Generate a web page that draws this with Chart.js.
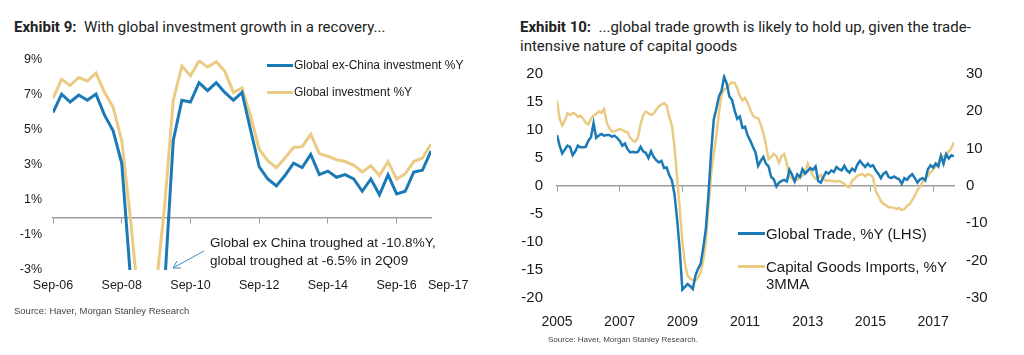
<!DOCTYPE html>
<html><head><meta charset="utf-8">
<script src="https://cdn.jsdelivr.net/npm/chart.js@4/dist/chart.umd.min.js"></script>
<style>
html,body{margin:0;padding:0;background:#fff;}
body{width:1024px;height:355px;position:relative;overflow:hidden;font-family:"Liberation Sans",Arial,sans-serif;color:#1a1a1a;}
.abs{position:absolute;white-space:nowrap;}
.title{font-family:Roboto,"Liberation Sans",sans-serif;font-size:15px;line-height:19px;color:#222;}
.title b{font-weight:700;}
.src{color:#444;}
.lg{font-size:12px;line-height:14px;}
.lgr{font-size:15px;line-height:17px;}
.sw{position:absolute;height:3px;}
canvas{position:absolute;}
</style>
</head><body>

<div class="abs title" style="left:14px;top:18px;"><b>Exhibit 9:</b>&nbsp; With global investment growth in a recovery...</div>
<div class="abs title" style="left:520px;top:18px;"><b>Exhibit 10:</b>&nbsp; ...global trade growth is likely to hold up, given the trade-<br>intensive nature of capital goods</div>

<canvas id="cL" width="512" height="280" style="left:0;top:40px;width:512px;height:280px;"></canvas>
<canvas id="cR" width="512" height="300" style="left:512px;top:50px;width:512px;height:300px;"></canvas>

<!-- left legend -->
<div class="sw" style="left:267px;top:64px;width:26px;background:#1b7ab5;"></div>
<div class="abs lg" style="left:294px;top:58px;">Global ex-China investment %Y</div>
<div class="sw" style="left:267px;top:91px;width:26px;background:#ebcb84;"></div>
<div class="abs lg" style="left:294px;top:85px;">Global investment %Y</div>

<!-- annotation -->
<div class="abs" style="left:210px;top:234px;font-size:13.5px;line-height:18px;">Global ex China troughed at -10.8%Y,<br>global troughed at -6.5% in 2Q09</div>
<svg class="abs" style="left:0;top:0;" width="512" height="355">
  <line x1="204" y1="251" x2="173" y2="268" stroke="#3d88c0" stroke-width="1"/>
  <polyline points="177,261 173,268 181,268" fill="none" stroke="#3d88c0" stroke-width="1"/>
</svg>

<!-- right legend -->
<div class="sw" style="left:738px;top:232px;width:27px;background:#1b7ab5;"></div>
<div class="abs lgr" style="left:766px;top:225px;">Global Trade, %Y (LHS)</div>
<div class="sw" style="left:738px;top:265px;width:27px;background:#ebcb84;"></div>
<div class="abs lgr" style="left:766px;top:258px;">Capital Goods Imports, %Y<br>3MMA</div>

<div class="abs src" style="left:14px;top:305px;font-size:9.5px;">Source: Haver, Morgan Stanley Research</div>
<div class="abs src" style="left:548px;top:335px;font-size:8px;">Source: Haver, Morgan Stanley Research.</div>

<script>
// ---------- Exhibit 9 data (quarterly, Sep-06 .. Sep-17) ----------
const quarters = ['Sep-06','Dec-06','Mar-07','Jun-07','Sep-07','Dec-07','Mar-08','Jun-08','Sep-08','Dec-08',
  'Mar-09','Jun-09','Sep-09','Dec-09','Mar-10','Jun-10','Sep-10','Dec-10','Mar-11','Jun-11',
  'Sep-11','Dec-11','Mar-12','Jun-12','Sep-12','Dec-12','Mar-13','Jun-13','Sep-13','Dec-13',
  'Mar-14','Jun-14','Sep-14','Dec-14','Mar-15','Jun-15','Sep-15','Dec-15','Mar-16','Jun-16',
  'Sep-16','Dec-16','Mar-17','Jun-17','Sep-17'];
const exChinaInvestment = [6.0,7.05,6.6,7.0,6.7,7.05,5.85,4.95,3.1,-3.3,
  -9.5,-10.8,-8.5,-3.8,4.4,6.7,6.6,7.7,7.25,7.7,
  7.15,6.7,7.15,5.0,2.9,2.2,1.8,2.4,3.1,2.85,
  3.6,2.45,2.65,2.3,2.45,2.2,1.5,2.2,1.3,2.45,
  1.35,1.5,2.6,2.7,3.8];
const globalInvestment = [6.8,7.9,7.55,8.0,7.8,8.25,7.15,6.3,4.4,0.0,
  -5.0,-6.5,-4.0,0.7,6.7,8.65,8.1,8.95,8.6,8.9,
  8.35,7.15,7.4,5.8,3.9,3.25,2.85,3.4,4.0,4.05,
  4.75,3.65,3.5,3.3,3.2,3.0,2.6,2.95,2.4,3.2,
  2.2,2.5,3.2,3.4,4.2];
const ex9TickLabels = ['Sep-06','Sep-08','Sep-10','Sep-12','Sep-14','Sep-16','Sep-17'];

// ---------- Exhibit 10 data (monthly, Jan-2005 .. Sep-2017) ----------
const firstYear = 2005;
const globalTrade = [
  9.1,7.2,5.8,6.5,7.2,7.0,5.5,6.2,7.2,6.9,6.9,7.0,
  8.1,8.7,11.2,8.6,9.0,9.3,9.0,9.1,9.1,8.8,9.0,8.6,
  8.1,7.2,7.6,6.6,6.0,6.1,6.0,6.1,7.0,6.2,5.9,5.0,
  6.2,5.2,4.6,4.2,4.5,3.2,3.3,1.9,
  1.0,-1.5,-6.0,-11.5,-18.5,-18.0,-17.5,-17.9,-18.4,-16.0,-14.8,-13.9,
  -11.0,-7.6,-1.5,6.0,11.8,13.8,16.0,17.0,19.5,18.3,16.0,15.4,
  13.5,12.0,12.4,10.4,10.6,9.0,8.1,7.0,
  6.0,3.6,4.5,5.2,4.0,3.5,1.6,1.2,-0.1,0.6,0.9,1.1,
  0.8,2.9,2.0,0.8,2.1,1.6,3.0,2.2,2.7,3.2,2.9,3.5,
  0.9,0.6,1.6,2.5,2.2,2.8,2.5,3.4,3.0,2.8,3.6,2.8,2.4,
  3.1,2.7,3.8,4.5,3.9,3.4,4.0,3.5,3.7,2.8,2.2,1.4,
  2.2,2.5,1.6,1.4,1.7,1.4,1.2,0.4,1.4,1.1,1.7,2.1,
  1.4,0.6,1.2,1.4,1.0,3.0,3.7,3.3,4.0,3.5,5.4,4.0,
  5.7,4.9,5.5,5.3];
const capitalGoodsImports = [
  22.9,18.0,16.2,17.5,19.5,19.0,19.5,19.3,18.5,18.8,18.0,16.9,
  16.5,18.0,18.9,19.3,20.0,19.6,20.6,17.1,15.6,14.6,14.6,14.9,
  15.3,15.0,14.6,14.4,13.0,12.2,11.9,13.0,16.5,19.0,19.9,19.5,
  19.0,19.4,20.5,21.3,21.9,22.2,21.5,18.5,16.2,10.5,2.0,-6.0,
  -15.0,-20.8,-24.0,-24.8,-25.2,-25.3,-24.5,-23.1,-20.0,-14.7,-5.5,3.0,
  8.5,13.5,19.5,24.5,25.8,26.2,27.2,27.7,27.6,26.2,24.2,22.9,
  23.6,22.2,20.5,18.8,
  18.3,18.2,16.5,14.2,11.0,7.2,7.8,8.6,8.0,6.2,8.0,8.6,
  6.0,2.4,2.0,1.4,1.7,2.3,2.8,3.5,6.0,4.3,2.8,1.9,
  2.2,3.0,1.9,1.4,1.5,1.4,1.3,1.2,1.4,1.0,0.6,-0.1,-0.3,
  1.4,2.0,2.7,3.0,3.2,2.6,3.2,2.9,2.3,-1.3,-2.6,-4.0,
  -4.8,-5.2,-5.7,-5.7,-5.8,-6.2,-5.9,-6.4,-6.2,-5.3,-4.9,-3.8,
  -2.6,-1.1,-0.2,1.2,1.9,2.6,3.7,4.3,5.4,6.1,7.5,7.9,
  8.4,9.2,10.2,11.7];
const ex10TickLabels = ['2005','2007','2009','2011','2013','2015','2017'];

// ---------- styling ----------
const BLUE = '#1b7ab5';
const GOLD = '#ebcb84';
const AXIS = '#9c9c9c';
const TXT = '#1a1a1a';
const FONT = '"Liberation Sans", Arial, sans-serif';
const NOGRID = { display: false, drawTicks: false };

// Exhibit 9 tick positions (quarter index); last label sits just past the final quarter
const ex9TickIdx = [0, 8, 16, 24, 32, 40];
const ex9LabelIdx = ex9TickIdx.concat([quarters.length + 1]);

new Chart(document.getElementById('cL'), {
  type: 'line',
  data: { datasets: [
    { label: 'Global ex-China investment %Y', data: exChinaInvestment.map((v, i) => ({x: i, y: v})),
      borderColor: BLUE, borderWidth: 3, pointRadius: 0, tension: 0 },
    { label: 'Global investment %Y', data: globalInvestment.map((v, i) => ({x: i, y: v})),
      borderColor: GOLD, borderWidth: 3, pointRadius: 0, tension: 0 }
  ]},
  options: {
    responsive: false, animation: false, devicePixelRatio: 1,
    layout: { padding: { top: 20, right: 81, left: 0, bottom: 0 } },
    plugins: { legend: { display: false }, tooltip: { enabled: false } },
    scales: {
      x: { type: 'linear', min: 0, max: quarters.length - 1, position: { y: 0 },
        grid: { display: true, drawOnChartArea: false, drawTicks: true, tickLength: 5, color: AXIS, lineWidth: 1 },
        border: { display: true, color: AXIS, width: 1.5 },
        ticks: { display: false },
        afterBuildTicks: s => { s.ticks = ex9TickIdx.map(v => ({ value: v })); } },
      xb: { type: 'linear', axis: 'x', min: 0, max: quarters.length - 1, position: 'bottom',
        grid: NOGRID, border: { display: false },
        ticks: { autoSkip: false, maxRotation: 0, padding: 8, color: TXT, font: { family: FONT, size: 12.5 },
          callback: (v) => { const k = ex9LabelIdx.indexOf(v); return k >= 0 ? ex9TickLabels[k] : ''; } },
        afterBuildTicks: s => { s.ticks = ex9LabelIdx.map(v => ({ value: v })); },
        afterFit: s => { s.height = 50; } },
      y: { min: -3, max: 9,
        ticks: { stepSize: 2, padding: 11, color: TXT, font: { family: FONT, size: 12.5 }, callback: v => v + '%' },
        grid: NOGRID, border: { display: false },
        afterFit: s => { s.width = 53; } }
    }
  }
});

const ex10TickIdx = ex10TickLabels.map(y => (Number(y) - firstYear) * 12);

new Chart(document.getElementById('cR'), {
  type: 'line',
  data: { datasets: [
    { label: 'Global Trade, %Y (LHS)', data: globalTrade.map((v, i) => ({x: i, y: v})),
      borderColor: BLUE, borderWidth: 2.5, pointRadius: 0, tension: 0, yAxisID: 'y' },
    { label: 'Capital Goods Imports, %Y 3MMA', data: capitalGoodsImports.map((v, i) => ({x: i, y: v})),
      borderColor: GOLD, borderWidth: 2.5, pointRadius: 0, tension: 0, yAxisID: 'y2' }
  ]},
  options: {
    responsive: false, animation: false, devicePixelRatio: 1,
    layout: { padding: { top: 24, right: 0, left: 0, bottom: 0 } },
    plugins: { legend: { display: false }, tooltip: { enabled: false } },
    scales: {
      x: { type: 'linear', min: 0, max: globalTrade.length - 1, position: { y: 0 },
        grid: { display: true, drawOnChartArea: false, drawTicks: true, tickLength: 5, color: AXIS, lineWidth: 1 },
        border: { display: true, color: AXIS, width: 1.5 },
        ticks: { display: false },
        afterBuildTicks: s => { s.ticks = ex10TickIdx.map(v => ({ value: v })); } },
      xb: { type: 'linear', axis: 'x', min: 0, max: globalTrade.length - 1, position: 'bottom',
        grid: NOGRID, border: { display: false },
        ticks: { autoSkip: false, maxRotation: 0, padding: 16, color: TXT, font: { family: FONT, size: 14 },
          callback: (v) => { const k = ex10TickIdx.indexOf(v); return k >= 0 ? ex10TickLabels[k] : ''; } },
        afterBuildTicks: s => { s.ticks = ex10TickIdx.map(v => ({ value: v })); },
        afterFit: s => { s.height = 52; } },
      y: { position: 'left', min: -20, max: 20,
        ticks: { stepSize: 5, padding: 14, color: TXT, font: { family: FONT, size: 15 } },
        grid: NOGRID, border: { display: false },
        afterFit: s => { s.width = 45; } },
      y2: { position: 'right', min: -30, max: 30,
        ticks: { stepSize: 10, padding: 12, color: TXT, font: { family: FONT, size: 15 } },
        grid: NOGRID, border: { display: false },
        afterFit: s => { s.width = 70; } }
    }
  }
});
</script>
</body></html>
